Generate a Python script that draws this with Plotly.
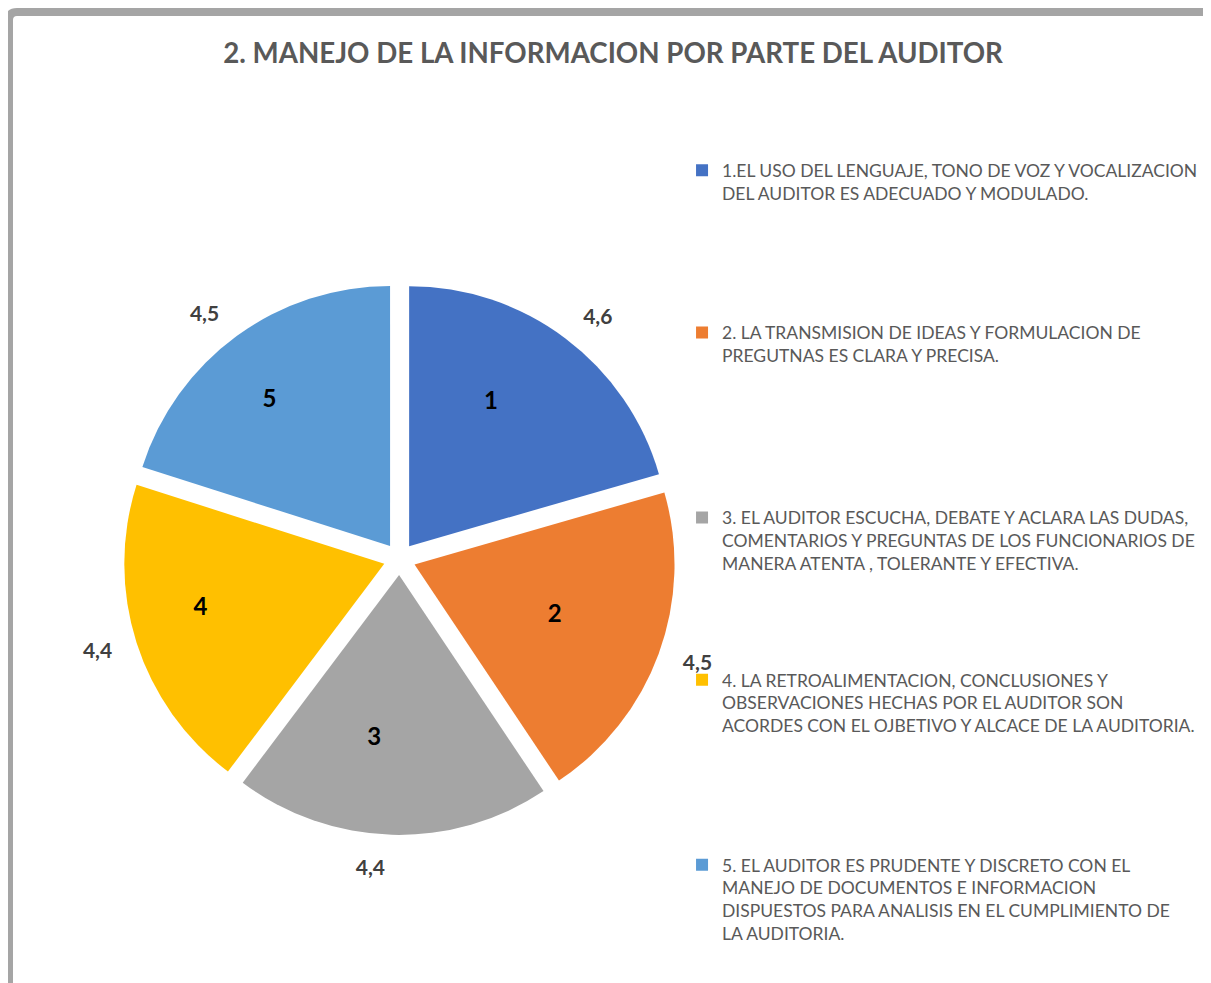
import plotly.graph_objects as go

short_labels = ["1", "2", "3", "4", "5"]
legend_lines = [
    ["1.EL USO DEL LENGUAJE, TONO DE VOZ Y VOCALIZACION", "DEL AUDITOR ES ADECUADO Y MODULADO."],
    ["2. LA TRANSMISION DE IDEAS Y FORMULACION DE", "PREGUTNAS ES CLARA Y PRECISA."],
    ["3. EL AUDITOR ESCUCHA, DEBATE Y ACLARA LAS DUDAS,", "COMENTARIOS Y PREGUNTAS DE LOS FUNCIONARIOS DE",
     "MANERA ATENTA , TOLERANTE Y EFECTIVA."],
    ["4. LA RETROALIMENTACION, CONCLUSIONES Y", "OBSERVACIONES HECHAS POR EL AUDITOR SON",
     "ACORDES CON EL OJBETIVO Y ALCACE DE LA AUDITORIA."],
    ["5. EL AUDITOR ES PRUDENTE Y DISCRETO CON EL", "MANEJO DE DOCUMENTOS E INFORMACION",
     "DISPUESTOS PARA ANALISIS EN EL CUMPLIMIENTO DE", "LA AUDITORIA."],
]
values = [4.6, 4.5, 4.4, 4.4, 4.5]
colors = ["#4472C4", "#ED7D31", "#A5A5A5", "#FFC000", "#5B9BD5"]

FONT = "Lato"
LEG_FS = 17.5
# number of text rows each legend entry occupies (spacing between entries)
ROWS_PER_ITEM = [7, 8, 7, 8, 0]

labels = []
for lines, rows in zip(legend_lines, ROWS_PER_ITEM):
    ls = list(lines) + ["\u00a0"] * max(0, rows - len(lines))
    labels.append("<br>".join(ls))

PULL = 0.0615
main_dom = dict(x=[0.0954, 0.5512], y=[0.1588, 0.7203])
label_dom = dict(x=[0.0698, 0.5437], y=[0.1587, 0.7426])
value_dom = dict(x=[0.0797, 0.5669], y=[0.1395, 0.7397])

fig = go.Figure()

# main pie (coloured slices)
fig.add_trace(go.Pie(
    labels=labels, values=values, textinfo="none",
    marker=dict(colors=colors, line=dict(width=0)),
    sort=False, direction="clockwise", pull=PULL,
    domain=main_dom, showlegend=True, hoverinfo="label+value",
))

# transparent layer carrying the slice numbers (inside)
fig.add_trace(go.Pie(
    labels=labels, values=values, text=short_labels,
    textinfo="text", textposition="inside", insidetextorientation="horizontal",
    textfont=dict(family=FONT, size=24, color="#000000", weight="bold"),
    marker=dict(colors=["rgba(0,0,0,0)"] * 5, line=dict(width=0)),
    sort=False, direction="clockwise", pull=PULL,
    domain=label_dom, showlegend=False, hoverinfo="skip",
))

# transparent layer carrying the values (outside)
fig.add_trace(go.Pie(
    labels=labels, values=values,
    texttemplate="%{value:.1f}", textposition="outside",
    textfont=dict(family=FONT, size=21, color="#404040", weight="bold"),
    marker=dict(colors=["rgba(0,0,0,0)"] * 5, line=dict(width=0)),
    sort=False, direction="clockwise",
    domain=value_dom, showlegend=False, hoverinfo="skip",
))

fig.update_layout(
    width=1211, height=983,
    margin=dict(l=0, r=0, t=0, b=0, autoexpand=False),
    paper_bgcolor="white", plot_bgcolor="white",
    separators=",.",
    title=dict(text="<b>2. MANEJO DE LA INFORMACION POR PARTE DEL AUDITOR</b>",
               x=0.4996, xanchor="center", y=0.9542, yanchor="middle",
               font=dict(family=FONT, size=27.7, color="#595959")),
    legend=dict(x=0.5566, xanchor="left", y=0.8531, yanchor="top",
                valign="top", font=dict(family=FONT, size=LEG_FS, color="#595959"),
                bgcolor="rgba(0,0,0,0)", tracegroupgap=0),
    font=dict(family=FONT),
    shapes=[dict(type="path", xref="paper", yref="paper",
                 path="M 0.000826,0 L 0.000826,0.98779 Q 0.000826,0.99593 0.00743,0.99593 L 1.01,0.99593",
                 line=dict(color="#A5A5A5", width=8), layer="above")],
)

fig.write_html("out.html")
